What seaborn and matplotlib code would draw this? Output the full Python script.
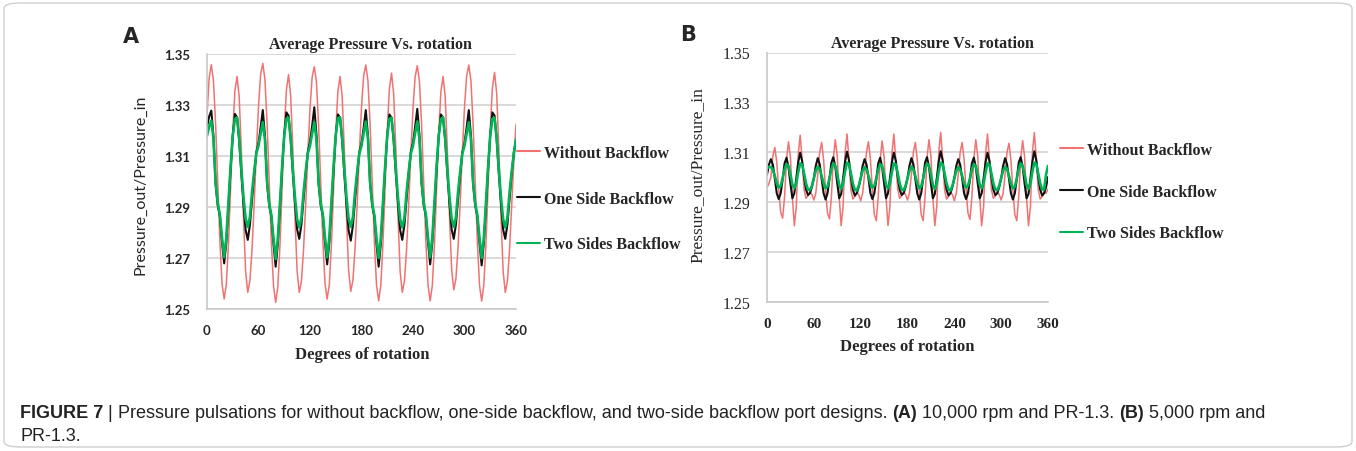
import numpy as np
import pandas as pd
import matplotlib
matplotlib.use("Agg")
import matplotlib.pyplot as plt
import seaborn as sns
from matplotlib.patches import FancyBboxPatch

# ---------------- data ----------------
series_names = ["Without Backflow", "One Side Backflow", "Two Sides Backflow"]
series_colors = ["#f07272", "#111111", "#00b356"]

# Panel A: 10,000 rpm, samples every 2.5 degrees (0 .. 360)
deg_a = np.arange(0, 360.01, 2.5)

red_a = [1.3262, 1.3405,
         1.3458, 1.3396, 1.3227, 1.2997, 1.2768, 1.2600, 1.2539, 1.2596, 1.2756, 1.2975, 1.3194, 1.3354, 1.3412, 1.3332, 1.3121, 1.2859, 1.2647, 1.2565, 1.2611, 1.2736, 1.2915, 1.3115, 1.3295, 1.3420,
         1.3463, 1.3400, 1.3229, 1.2995, 1.2761, 1.2590, 1.2526, 1.2587, 1.2751, 1.2973, 1.3196, 1.3359, 1.3419, 1.3337, 1.3124, 1.2860, 1.2647, 1.2565, 1.2609, 1.2734, 1.2912, 1.3110, 1.3286, 1.3409,
         1.3450, 1.3390, 1.3223, 1.2995, 1.2767, 1.2600, 1.2539, 1.2596, 1.2756, 1.2975, 1.3194, 1.3354, 1.3412, 1.3333, 1.3122, 1.2862, 1.2651, 1.2569, 1.2613, 1.2737, 1.2914, 1.3113, 1.3291, 1.3415,
         1.3457, 1.3395, 1.3226, 1.2995, 1.2764, 1.2594, 1.2532, 1.2593, 1.2756, 1.2978, 1.3201, 1.3364, 1.3425, 1.3342, 1.3127, 1.2863, 1.2648, 1.2565, 1.2609, 1.2734, 1.2911, 1.3110, 1.3287, 1.3411,
         1.3454, 1.3392, 1.3224, 1.2993, 1.2763, 1.2594, 1.2532, 1.2592, 1.2752, 1.2972, 1.3192, 1.3352, 1.3412, 1.3333, 1.3124, 1.2867, 1.2656, 1.2575, 1.2619, 1.2742, 1.2918, 1.3115, 1.3292, 1.3414,
         1.3457, 1.3395, 1.3225, 1.2994, 1.2763, 1.2593, 1.2531, 1.2593, 1.2757, 1.2980, 1.3203, 1.3367, 1.3428, 1.3345, 1.3128, 1.2864, 1.2648, 1.2565, 1.2609, 1.2734, 1.2911, 1.3080, 1.3225]

black_a = [1.3215, 1.3255,
           1.3278, 1.3178, 1.2990, 1.2905, 1.2865, 1.2762, 1.2679, 1.2762, 1.2900, 1.3050, 1.3180, 1.3265, 1.3252, 1.3160, 1.3030, 1.2910, 1.2810, 1.2771, 1.2830, 1.2930, 1.3030, 1.3115, 1.3150, 1.3212,
           1.3280, 1.3180, 1.2992, 1.2905, 1.2862, 1.2755, 1.2666, 1.2755, 1.2898, 1.3052, 1.3185, 1.3271, 1.3258, 1.3165, 1.3032, 1.2912, 1.2812, 1.2775, 1.2832, 1.2932, 1.3032, 1.3118, 1.3155, 1.3218,
           1.3291, 1.3185, 1.2992, 1.2905, 1.2865, 1.2760, 1.2675, 1.2760, 1.2900, 1.3050, 1.3180, 1.3263, 1.3250, 1.3160, 1.3028, 1.2908, 1.2808, 1.2768, 1.2828, 1.2928, 1.3030, 1.3115, 1.3150, 1.3210,
           1.3280, 1.3180, 1.2990, 1.2905, 1.2862, 1.2755, 1.2666, 1.2755, 1.2898, 1.3050, 1.3180, 1.3263, 1.3250, 1.3160, 1.3030, 1.2910, 1.2810, 1.2771, 1.2830, 1.2930, 1.3032, 1.3118, 1.3152, 1.3215,
           1.3285, 1.3182, 1.2992, 1.2905, 1.2865, 1.2760, 1.2675, 1.2760, 1.2900, 1.3050, 1.3180, 1.3263, 1.3250, 1.3162, 1.3032, 1.2912, 1.2812, 1.2775, 1.2832, 1.2932, 1.3030, 1.3115, 1.3150, 1.3212,
           1.3280, 1.3180, 1.2990, 1.2905, 1.2862, 1.2758, 1.2671, 1.2758, 1.2900, 1.3052, 1.3185, 1.3271, 1.3258, 1.3165, 1.3032, 1.2912, 1.2812, 1.2775, 1.2832, 1.2932, 1.3032, 1.3115, 1.3160]

green_a = [1.3180, 1.3215,
           1.3239, 1.3170, 1.3000, 1.2915, 1.2870, 1.2780, 1.2703, 1.2780, 1.2920, 1.3060, 1.3180, 1.3245, 1.3252, 1.3170, 1.3050, 1.2940, 1.2855, 1.2822, 1.2860, 1.2960, 1.3040, 1.3110, 1.3140, 1.3188,
           1.3232, 1.3165, 1.2998, 1.2913, 1.2868, 1.2776, 1.2696, 1.2776, 1.2918, 1.3058, 1.3180, 1.3246, 1.3250, 1.3168, 1.3048, 1.2938, 1.2853, 1.2820, 1.2858, 1.2958, 1.3040, 1.3110, 1.3140, 1.3188,
           1.3232, 1.3165, 1.3000, 1.2915, 1.2870, 1.2780, 1.2703, 1.2780, 1.2920, 1.3060, 1.3182, 1.3248, 1.3252, 1.3170, 1.3050, 1.2940, 1.2855, 1.2822, 1.2860, 1.2960, 1.3040, 1.3110, 1.3140, 1.3190,
           1.3235, 1.3168, 1.2998, 1.2913, 1.2868, 1.2778, 1.2700, 1.2778, 1.2918, 1.3058, 1.3180, 1.3246, 1.3250, 1.3168, 1.3048, 1.2938, 1.2853, 1.2820, 1.2858, 1.2958, 1.3040, 1.3110, 1.3140, 1.3190,
           1.3235, 1.3168, 1.3000, 1.2915, 1.2870, 1.2780, 1.2703, 1.2780, 1.2920, 1.3060, 1.3180, 1.3245, 1.3252, 1.3170, 1.3050, 1.2940, 1.2855, 1.2822, 1.2860, 1.2960, 1.3040, 1.3110, 1.3140, 1.3188,
           1.3232, 1.3165, 1.2998, 1.2913, 1.2868, 1.2778, 1.2700, 1.2778, 1.2918, 1.3058, 1.3180, 1.3246, 1.3250, 1.3168, 1.3048, 1.2938, 1.2853, 1.2820, 1.2858, 1.2958, 1.3040, 1.3110, 1.3165]

# Panel B: 5,000 rpm, samples every 2.5 degrees (0 .. 360)
deg_b = np.arange(0, 360.01, 2.5)

red_b = [1.2958, 1.2975,
         1.3000, 1.3085, 1.3119, 1.3060, 1.2950, 1.2860, 1.2835, 1.2920, 1.3070, 1.3142, 1.3080, 1.2920, 1.2805, 1.2880, 1.3090, 1.3168, 1.3070, 1.2950, 1.2915, 1.2925, 1.2942, 1.2930, 1.2908, 1.2935,
         1.3010, 1.3100, 1.3139, 1.3070, 1.2950, 1.2855, 1.2832, 1.2920, 1.3075, 1.3150, 1.3085, 1.2920, 1.2805, 1.2882, 1.3095, 1.3173, 1.3072, 1.2950, 1.2912, 1.2922, 1.2940, 1.2930, 1.2905, 1.2935,
         1.3010, 1.3100, 1.3142, 1.3070, 1.2950, 1.2850, 1.2825, 1.2920, 1.3070, 1.3145, 1.3082, 1.2920, 1.2805, 1.2880, 1.3092, 1.3173, 1.3070, 1.2950, 1.2915, 1.2925, 1.2942, 1.2930, 1.2908, 1.2935,
         1.3010, 1.3100, 1.3139, 1.3070, 1.2950, 1.2850, 1.2825, 1.2920, 1.3075, 1.3150, 1.3085, 1.2920, 1.2805, 1.2882, 1.3098, 1.3179, 1.3075, 1.2950, 1.2912, 1.2922, 1.2940, 1.2930, 1.2905, 1.2935,
         1.3010, 1.3100, 1.3139, 1.3070, 1.2950, 1.2855, 1.2830, 1.2920, 1.3075, 1.3150, 1.3085, 1.2920, 1.2805, 1.2880, 1.3092, 1.3173, 1.3070, 1.2950, 1.2915, 1.2925, 1.2942, 1.2930, 1.2908, 1.2935,
         1.3010, 1.3100, 1.3136, 1.3068, 1.2950, 1.2850, 1.2825, 1.2920, 1.3072, 1.3147, 1.3082, 1.2920, 1.2805, 1.2882, 1.3098, 1.3179, 1.3075, 1.2950, 1.2912, 1.2922, 1.2940, 1.2935, 1.2952]

black_b = [1.3010, 1.3050,
           1.3072, 1.3050, 1.2995, 1.2935, 1.2912, 1.2935, 1.2990, 1.3055, 1.3078, 1.3040, 1.2975, 1.2915, 1.2935, 1.2995, 1.3060, 1.3098, 1.3065, 1.3000, 1.2950, 1.2928, 1.2935, 1.2960, 1.2995, 1.3045,
           1.3076, 1.3052, 1.2995, 1.2935, 1.2910, 1.2935, 1.2992, 1.3058, 1.3080, 1.3042, 1.2975, 1.2915, 1.2932, 1.2995, 1.3062, 1.3102, 1.3068, 1.3000, 1.2950, 1.2926, 1.2935, 1.2960, 1.2995, 1.3045,
           1.3072, 1.3050, 1.2995, 1.2935, 1.2912, 1.2935, 1.2990, 1.3055, 1.3078, 1.3040, 1.2975, 1.2915, 1.2935, 1.2995, 1.3060, 1.3098, 1.3065, 1.3000, 1.2950, 1.2928, 1.2935, 1.2960, 1.2995, 1.3045,
           1.3076, 1.3052, 1.2995, 1.2935, 1.2910, 1.2935, 1.2992, 1.3058, 1.3080, 1.3042, 1.2975, 1.2915, 1.2932, 1.2995, 1.3062, 1.3104, 1.3068, 1.3000, 1.2950, 1.2926, 1.2935, 1.2960, 1.2995, 1.3045,
           1.3072, 1.3050, 1.2995, 1.2935, 1.2912, 1.2935, 1.2990, 1.3055, 1.3078, 1.3040, 1.2975, 1.2915, 1.2935, 1.2995, 1.3060, 1.3098, 1.3065, 1.3000, 1.2950, 1.2928, 1.2935, 1.2960, 1.2995, 1.3045,
           1.3076, 1.3052, 1.2995, 1.2935, 1.2910, 1.2935, 1.2992, 1.3058, 1.3080, 1.3042, 1.2975, 1.2915, 1.2932, 1.2995, 1.3062, 1.3104, 1.3068, 1.3000, 1.2950, 1.2926, 1.2935, 1.2960, 1.3000]

green_b = [1.3035, 1.3042,
           1.3040, 1.3030, 1.3005, 1.2975, 1.2958, 1.2965, 1.2995, 1.3030, 1.3052, 1.3045, 1.3010, 1.2970, 1.2955, 1.2975, 1.3020, 1.3055, 1.3050, 1.3015, 1.2975, 1.2950, 1.2948, 1.2965, 1.2995, 1.3025,
           1.3042, 1.3032, 1.3005, 1.2975, 1.2955, 1.2962, 1.2995, 1.3032, 1.3055, 1.3046, 1.3010, 1.2970, 1.2952, 1.2975, 1.3022, 1.3058, 1.3052, 1.3015, 1.2975, 1.2950, 1.2946, 1.2965, 1.2995, 1.3025,
           1.3040, 1.3030, 1.3005, 1.2975, 1.2958, 1.2965, 1.2995, 1.3030, 1.3052, 1.3045, 1.3010, 1.2970, 1.2955, 1.2975, 1.3020, 1.3055, 1.3050, 1.3015, 1.2975, 1.2950, 1.2948, 1.2965, 1.2995, 1.3025,
           1.3042, 1.3032, 1.3005, 1.2975, 1.2955, 1.2962, 1.2995, 1.3032, 1.3055, 1.3046, 1.3010, 1.2970, 1.2952, 1.2975, 1.3022, 1.3058, 1.3052, 1.3015, 1.2975, 1.2950, 1.2946, 1.2965, 1.2995, 1.3025,
           1.3040, 1.3030, 1.3005, 1.2975, 1.2958, 1.2965, 1.2995, 1.3030, 1.3052, 1.3045, 1.3010, 1.2970, 1.2955, 1.2975, 1.3020, 1.3055, 1.3050, 1.3015, 1.2975, 1.2950, 1.2948, 1.2965, 1.2995, 1.3025,
           1.3042, 1.3032, 1.3005, 1.2975, 1.2955, 1.2962, 1.2995, 1.3032, 1.3055, 1.3046, 1.3010, 1.2970, 1.2952, 1.2975, 1.3022, 1.3058, 1.3052, 1.3015, 1.2975, 1.2950, 1.2950, 1.3010, 1.3045]

x_ticks = [0, 60, 120, 180, 240, 300, 360]
y_ticks = [1.25, 1.27, 1.29, 1.31, 1.33, 1.35]
title_text = "Average Pressure Vs. rotation"
xlabel_text = "Degrees of rotation"
ylabel_text = "Pressure_out/Pressure_in"
caption_line1 = [("FIGURE 7", "bold"), (" | ", "normal"),
                 ("Pressure pulsations for without backflow, one-side backflow, and two-side backflow port designs. ", "normal"),
                 ("(A)", "bold"), (" 10,000 rpm and PR-1.3. ", "normal"), ("(B)", "bold"), (" 5,000 rpm and", "normal")]
caption_line2 = [("PR-1.3.", "normal")]

# ---------------- figure ----------------
sns.set_theme(style="white")
plt.rcParams['font.family'] = ['DejaVu Sans']
W, H = 1356, 452
fig = plt.figure(figsize=(W / 100, H / 100), dpi=100)

SERIF = 'Liberation Serif'
SANS_A = 'Lato'
CAPTION_FONT = 'Liberation Sans'


def make_df(x, ys):
    frames = []
    for name, y in zip(series_names, ys):
        frames.append(pd.DataFrame({"deg": x, "val": y, "series": name}))
    return pd.concat(frames, ignore_index=True)


df_a = make_df(deg_a, [red_a, black_a, green_a])
df_b = make_df(deg_b, [red_b, black_b, green_b])

axA = fig.add_axes([207 / W, 1 - 310 / H, 309 / W, 255 / H])
axB = fig.add_axes([767 / W, 1 - 302.7 / H, 281 / W, 249.2 / H])

palette = dict(zip(series_names, series_colors))
for ax, df in [(axA, df_a), (axB, df_b)]:
    for name, lw in zip(series_names, [1.1, 1.5, 1.9]):
        sub = df[df.series == name]
        sns.lineplot(data=sub, x="deg", y="val", ax=ax, color=palette[name], lw=lw,
                     sort=False, estimator=None, label=name, legend=False)
    ax.set_xlim(0, 360)
    ax.set_ylim(1.25, 1.35)
    ax.set_xticks(x_ticks)
    ax.set_yticks(y_ticks)
    ax.set_yticklabels([f"{v:.2f}" for v in y_ticks])
    ax.yaxis.grid(True, color='#d9d9d9', lw=1.4)
    ax.xaxis.grid(False)
    ax.set_axisbelow(True)
    for s in ['top', 'right']:
        ax.spines[s].set_visible(False)
    for s in ['left', 'bottom']:
        ax.spines[s].set_color('#c8c8c8')
        ax.spines[s].set_linewidth(1.2)
    ax.tick_params(axis='x', length=4, width=1, color='#c8c8c8', direction='out', pad=7)
    ax.tick_params(axis='y', length=4, width=1, color='#d9d9d9', direction='out', pad=8)
    ax.set_xlabel("")
    ax.set_ylabel("")
    ax.set_facecolor('white')

# tick label fonts
for lab in axA.get_xticklabels() + axA.get_yticklabels():
    lab.set_fontfamily(SANS_A)
    lab.set_fontweight('bold')
    lab.set_fontsize(9.5)
for lab in axB.get_yticklabels():
    lab.set_fontfamily(SERIF)
    lab.set_fontsize(11.5)
for lab in axB.get_xticklabels():
    lab.set_fontfamily(SERIF)
    lab.set_fontweight('bold')
    lab.set_fontsize(11)

# legends
for ax, anchor, spacing in [(axA, (517 / W, 1 - 146 / H), 1.85), (axB, (1060 / W, 1 - 143 / H), 1.6)]:
    leg = ax.legend(loc='upper left', bbox_to_anchor=anchor, bbox_transform=fig.transFigure,
                    frameon=False, handlelength=1.45, handletextpad=0.25, labelspacing=spacing,
                    prop={'family': SERIF, 'weight': 'bold', 'size': 11.5}, borderpad=0, borderaxespad=0)
    for line in leg.get_lines():
        line.set_linewidth(1.5)

# titles, axis labels, panel letters
fig.text(370 / W, 1 - 45 / H, title_text, ha='center', va='center', family=SERIF, weight='bold', size=11.5)
fig.text(932 / W, 1 - 43.5 / H, title_text, ha='center', va='center', family=SERIF, weight='bold', size=11.5)
fig.text(362 / W, 1 - 355 / H, xlabel_text, ha='center', va='center', family=SERIF, weight='bold', size=12)
fig.text(907 / W, 1 - 347 / H, xlabel_text, ha='center', va='center', family=SERIF, weight='bold', size=12)
fig.text(140 / W, 1 - 185 / H, ylabel_text, ha='center', va='center', rotation=90, family=SANS_A, size=11.5)
fig.text(698 / W, 1 - 175 / H, ylabel_text, ha='center', va='center', rotation=90, family=SERIF, size=12.5)
fig.text(131 / W, 1 - 37 / H, "A", ha='center', va='center', family='DejaVu Sans', weight='bold', size=15)
fig.text(688 / W, 1 - 35 / H, "B", ha='center', va='center', family='DejaVu Sans', weight='bold', size=15)

# caption with mixed weights
renderer = fig.canvas.get_renderer()


def rich_line(x_px, y_px, runs, size=13, family=CAPTION_FONT):
    x = x_px
    for txt, weight in runs:
        t = fig.text(x / W, 1 - y_px / H, txt, ha='left', va='center', family=family,
                     weight=weight, size=size, color='#222222')
        bb = t.get_window_extent(renderer=renderer)
        x += bb.width


rich_line(20, 414, caption_line1)
rich_line(20, 437, caption_line2)

# rounded frame around the figure
frame = FancyBboxPatch((4 / W, 4 / H), 1 - 8 / W, 1 - 8 / H, boxstyle="round,pad=0,rounding_size=0.012",
                       transform=fig.transFigure, fill=False, edgecolor='#cfcfcf', lw=1.0)
fig.patches.append(frame)

fig.savefig("out.png", dpi=100, facecolor='white')
